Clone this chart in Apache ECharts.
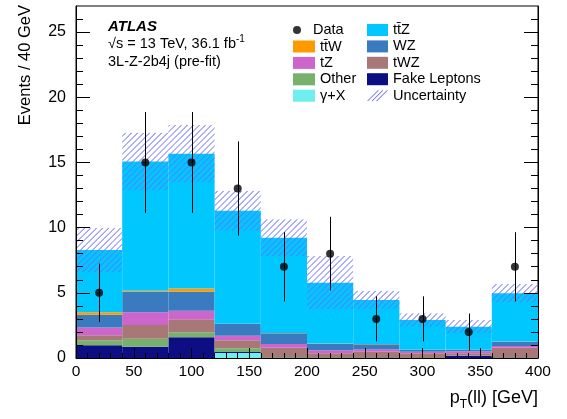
<!DOCTYPE html>
<html><head><meta charset="utf-8">
<script src="https://cdn.jsdelivr.net/npm/echarts@6/dist/echarts.min.js"></script>
<style>html,body{margin:0;padding:0;background:#fff}#c{width:567px;height:419px}</style>
</head><body><div id="c"></div>
<script>
// ---- data ----
const binEdges = [0, 40, 80, 120, 160, 200, 240, 280, 320, 360, 400];
const dataCounts = [5, 15, 15, 13, 7, 8, 3, 3, 2, 7];
const dataErrLow = [2.24, 3.87, 3.87, 3.61, 2.65, 2.83, 1.73, 1.73, 1.41, 2.65];
const dataErrHigh = [2.24, 3.87, 3.87, 3.61, 2.65, 2.83, 1.73, 1.73, 1.41, 2.65];
const gammaX = [0, 0, 0, 0.38, 0, 0, 0, 0, 0, 0];
const fakeLeptons = [0.97, 0.87, 1.59, 0.08, 0, 0, 0, 0, 0.15, 0];
const other = [0.39, 0.61, 0.38, 0.28, 0.05, 0.03, 0.03, 0.02, 0.02, 0.03];
const tWZ = [0.38, 1.05, 1.0, 0.62, 0.74, 0.33, 0.45, 0.34, 0.19, 0.76];
const tZ = [0.59, 0.97, 0.66, 0.35, 0.28, 0.23, 0.18, 0.12, 0.15, 0.13];
const WZ = [0.99, 1.59, 1.46, 0.9, 0.82, 0.51, 0.39, 0.13, 0.1, 0.33];
const ttW = [0.18, 0.07, 0.25, 0.02, 0.02, 0.02, 0.02, 0.02, 0.02, 0.02];
const ttZ = [4.78, 9.92, 10.33, 8.67, 7.32, 4.66, 3.38, 2.28, 1.77, 3.69];
const uncertainty = [1.72, 2.2, 2.2, 1.53, 1.41, 2.05, 0.71, 0.52, 0.51, 0.71];
const yMajorTicks = [0, 5, 10, 15, 20, 25];
const yMinorTicks = [1, 2, 3, 4, 6, 7, 8, 9, 11, 12, 13, 14, 16, 17, 18, 19, 21, 22, 23, 24, 26];

const FONT = '"Liberation Sans", Arial, sans-serif';
const HATCH_COLOR = '#6a6aff';
const HATCH_STEP = 6;
const HATCH_W = 1.1;

const components = [
  { name: 'γ+X', values: gammaX, color: '#6eeeee' },
  { name: 'Fake Leptons', values: fakeLeptons, color: '#0e0e84' },
  { name: 'Other', values: other, color: '#78b06e' },
  { name: 'tWZ', values: tWZ, color: '#a87878' },
  { name: 'tZ', values: tZ, color: '#cc66cc' },
  { name: 'WZ', values: WZ, color: '#3a7bbf' },
  { name: 'tt\u0304W', values: ttW, color: '#ff9900' },
  { name: 'tt\u0304Z', values: ttZ, color: '#00c8ff' }
];

function rectItem(params, api) {
  const a = api.coord([api.value(0), api.value(3)]);
  const b = api.coord([api.value(1), api.value(2)]);
  return { type: 'rect', shape: { x: a[0], y: a[1], width: b[0] - a[0], height: b[1] - a[1] }, style: api.style() };
}

function hatchItem(params, api) {
  const a = api.coord([api.value(0), api.value(3)]);
  const b = api.coord([api.value(1), api.value(2)]);
  const x = a[0], y = a[1], w = b[0] - a[0], h = b[1] - a[1];
  const children = [];
  const c0 = Math.floor((x + y) / HATCH_STEP) * HATCH_STEP;
  for (let c = c0; c <= x + w + y + h + HATCH_STEP; c += HATCH_STEP) {
    const xb = c - (y + h), xt = c - y;
    children.push({ type: 'polygon',
      shape: { points: [[xb, y + h], [xb + HATCH_W, y + h], [xt + HATCH_W, y], [xt, y]] },
      style: { fill: HATCH_COLOR, stroke: null } });
  }
  return { type: 'group', children: children, clipPath: { type: 'rect', shape: { x: x, y: y, width: w, height: h } } };
}

const series = [];
const base = binEdges.slice(0, -1).map(() => 0);
components.forEach(comp => {
  const items = comp.values.map((v, i) => {
    const it = [binEdges[i], binEdges[i + 1], base[i], base[i] + v];
    base[i] += v;
    return it;
  });
  series.push({
    type: 'custom', name: comp.name, renderItem: rectItem, z: 2,
    itemStyle: { color: comp.color },
    encode: { x: [0, 1], y: [2, 3] },
    data: items
  });
});
series.push({
  type: 'custom', name: 'Uncertainty', z: 3,
  itemStyle: { color: HATCH_COLOR },
  encode: { x: [0, 1], y: [2, 3] },
  renderItem: hatchItem,
  data: uncertainty.map((u, i) => [binEdges[i], binEdges[i + 1], base[i] - u, base[i] + u])
});
const centers = dataCounts.map((d, i) => (binEdges[i] + binEdges[i + 1]) / 2);
series.push({
  type: 'custom', name: 'DataErr', z: 4,
  encode: { x: 0, y: [1, 2] },
  renderItem: function (params, api) {
    const t = api.coord([api.value(0), api.value(2)]);
    const b = api.coord([api.value(0), api.value(1)]);
    const x = Math.round(t[0]) + 0.5;
    return { type: 'line', shape: { x1: x, y1: t[1], x2: x, y2: b[1] }, style: { stroke: '#000', lineWidth: 1 } };
  },
  data: dataCounts.map((d, i) => [centers[i], d - dataErrLow[i], d + dataErrHigh[i]])
});
series.push({
  type: 'scatter', name: 'Data', z: 5, symbol: 'circle', symbolSize: 8,
  itemStyle: { color: '#000' },
  data: dataCounts.map((d, i) => [centers[i], d])
});

const legendText = { fontFamily: FONT, fontSize: 14.5, color: '#000', lineHeight: 16 };
const yCommon = { type: 'value', min: 0, max: 27, interval: 5, splitLine: { show: false }, z: 10 };
const hatchIcon = 'path://M0,12L1.3,12L13.3,0L12,0Z M5,12L6.3,12L18.3,0L17,0Z M10,12L11.3,12L23.3,0L22,0Z';

const option = {
  animation: false,
  textStyle: { fontFamily: FONT },
  grid: { left: 76, right: 29, top: 6, bottom: 61, outerBoundsMode: 'none', containLabel: false,
    show: true, borderColor: '#000', borderWidth: 1, backgroundColor: 'transparent' },
  xAxis: {
    type: 'value', min: 0, max: 400, interval: 50, z: 10,
    axisLine: { lineStyle: { color: '#000', width: 1 } },
    axisTick: { inside: true, length: 10, lineStyle: { color: '#000' } },
    minorTick: { show: true, splitNumber: 5, length: 5, lineStyle: { color: '#000' } },
    axisLabel: { fontFamily: FONT, fontSize: 15.5, color: '#000', margin: 6 },
    splitLine: { show: false }
  },
  yAxis: [
    Object.assign({}, yCommon, {
      position: 'left',
      name: 'Events / 40 GeV', nameLocation: 'end', nameGap: 1, nameRotate: 90,
      nameTextStyle: { fontFamily: FONT, fontSize: 16.5, color: '#000', align: 'right', verticalAlign: 'bottom', padding: [0, 0, 42, 0] },
      axisLine: { show: true, lineStyle: { color: '#000', width: 1 } },
      axisTick: { inside: true, length: 14, customValues: yMajorTicks, lineStyle: { color: '#000' } },
      axisLabel: { fontFamily: FONT, fontSize: 16, color: '#000', margin: 10, customValues: yMajorTicks }
    }),
    Object.assign({}, yCommon, {
      position: 'left',
      axisLine: { show: false },
      axisTick: { inside: true, length: 7, customValues: yMinorTicks, lineStyle: { color: '#000' } },
      axisLabel: { show: false }
    }),
    Object.assign({}, yCommon, {
      position: 'right',
      axisLine: { show: true, lineStyle: { color: '#000', width: 1 } },
      axisTick: { inside: true, length: 14, customValues: yMajorTicks, lineStyle: { color: '#000' } },
      axisLabel: { show: false }
    }),
    Object.assign({}, yCommon, {
      position: 'right',
      axisLine: { show: false },
      axisTick: { inside: true, length: 7, customValues: yMinorTicks, lineStyle: { color: '#000' } },
      axisLabel: { show: false }
    })
  ],
  legend: [
    { orient: 'vertical', left: 288, top: 17, itemWidth: 22, itemHeight: 8, itemGap: 0.4, selectedMode: false,
      textStyle: legendText, data: [{ name: 'Data', icon: 'circle' }] },
    { orient: 'vertical', left: 288, top: 33.5, itemWidth: 22, itemHeight: 12, itemGap: 0.4, selectedMode: false,
      textStyle: legendText, icon: 'rect', data: ['tt\u0304W', 'tZ', 'Other', 'γ+X'] },
    { orient: 'vertical', left: 362, top: 17, itemWidth: 21, itemHeight: 12, itemGap: 0.4, selectedMode: false,
      textStyle: legendText, icon: 'rect',
      data: ['tt\u0304Z', 'WZ', 'tWZ', 'Fake Leptons', { name: 'Uncertainty', icon: hatchIcon }] }
  ],
  graphic: [
    { type: 'text', x: 108, y: 26.5, style: { text: 'ATLAS', font: 'italic bold 15px ' + FONT, fill: '#000', verticalAlign: 'middle' } },
    { type: 'text', x: 108, y: 44, style: {
        text: '√s = 13 TeV, 36.1 fb{sup|-1}', font: '14.5px ' + FONT, fill: '#000', lineHeight: 20, verticalAlign: 'middle',
        rich: { sup: { fontFamily: FONT, fontSize: 10, lineHeight: 10, verticalAlign: 'top', fill: '#000' } } } },
    { type: 'text', x: 108, y: 62, style: { text: '3L-Z-2b4j (pre-fit)', font: '14.5px ' + FONT, fill: '#000', verticalAlign: 'middle' } },
    { type: 'text', x: 538, y: 398, style: {
        text: 'p{sub|T}(ll) [GeV]', font: '18px ' + FONT, fill: '#000', lineHeight: 26, align: 'right', verticalAlign: 'middle',
        rich: { sub: { fontFamily: FONT, fontSize: 12, lineHeight: 12, verticalAlign: 'bottom', fill: '#000' } } } }
  ],
  series: series
};

const chart = echarts.init(document.getElementById('c'), null, { renderer: 'canvas' });
chart.setOption(option);
</script>
</body></html>
